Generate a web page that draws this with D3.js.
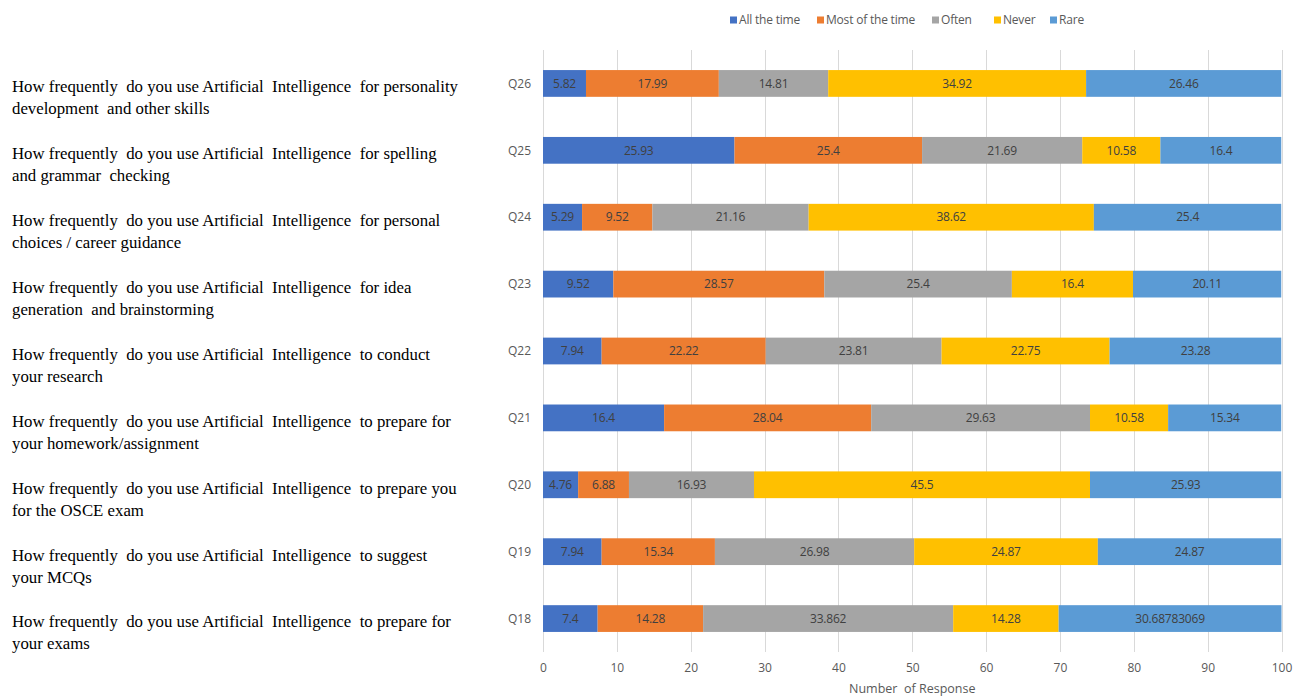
<!DOCTYPE html>
<html><head><meta charset="utf-8">
<script src="https://cdn.jsdelivr.net/npm/d3@7"></script>
<style>
html,body{margin:0;padding:0;background:#fff;}
svg{display:block;}
</style></head>
<body>
<svg id="chart" width="1293" height="698"></svg>
<script>
const categories = ["Q26","Q25","Q24","Q23","Q22","Q21","Q20","Q19","Q18"];
const seriesNames = ["All the time","Most of the time","Often","Never","Rare"];
const allTheTime   = [5.82, 25.93, 5.29, 9.52, 7.94, 16.4, 4.76, 7.94, 7.4];
const mostOfTheTime= [17.99, 25.4, 9.52, 28.57, 22.22, 28.04, 6.88, 15.34, 14.28];
const often        = [14.81, 21.69, 21.16, 25.4, 23.81, 29.63, 16.93, 26.98, 33.862];
const never        = [34.92, 10.58, 38.62, 16.4, 22.75, 10.58, 45.5, 24.87, 14.28];
const rare         = [26.46, 16.4, 25.4, 20.11, 23.28, 15.34, 25.93, 24.87, 30.68783069];
const xTicks = [0,10,20,30,40,50,60,70,80,90,100];
const questionLines = [
  ["How frequently  do you use Artificial  Intelligence  for personality", "development  and other skills"],
  ["How frequently  do you use Artificial  Intelligence  for spelling", "and grammar  checking"],
  ["How frequently  do you use Artificial  Intelligence  for personal", "choices / career guidance"],
  ["How frequently  do you use Artificial  Intelligence  for idea", "generation  and brainstorming"],
  ["How frequently  do you use Artificial  Intelligence  to conduct", "your research"],
  ["How frequently  do you use Artificial  Intelligence  to prepare for", "your homework/assignment"],
  ["How frequently  do you use Artificial  Intelligence  to prepare you", "for the OSCE exam"],
  ["How frequently  do you use Artificial  Intelligence  to suggest", "your MCQs"],
  ["How frequently  do you use Artificial  Intelligence  to prepare for", "your exams"]
];
const colors = ["#4472C4","#ED7D31","#A5A5A5","#FFC000","#5B9BD5"];
const axisTitle = "Number  of Response";

(function(){
const seriesValues = [allTheTime, mostOfTheTime, often, never, rare];
const rows = categories.map((c,i)=>{
  const r = {cat:c};
  seriesNames.forEach((s,j)=> r[s]=seriesValues[j][i]);
  return r;
});

const svg = d3.select("#chart");
const pL = 543, pR = 1281.5, pT = 50, pB = 652;
const x = d3.scaleLinear().domain([0,100]).range([pL,pR]);
const y = d3.scaleBand().domain(categories).range([pT,pB]).paddingInner(0.6).paddingOuter(0.3);
const color = d3.scaleOrdinal().domain(seriesNames).range(colors);

const sans = "'Open Sans',sans-serif";

svg.append("g").selectAll("line").data(xTicks).join("line")
  .attr("x1",d=>Math.round(x(d))+0.5).attr("x2",d=>Math.round(x(d))+0.5).attr("y1",pT).attr("y2",pB)
  .attr("stroke","#D9D9D9").attr("stroke-width",1);

svg.append("clipPath").attr("id","plotclip").append("rect")
  .attr("x",pL).attr("y",0).attr("width",pR-pL).attr("height",698);

const stack = d3.stack().keys(seriesNames)(rows);
const gBars = svg.append("g").attr("clip-path","url(#plotclip)");
stack.forEach(layer=>{
  const g = gBars.append("g").attr("fill",color(layer.key));
  g.selectAll("rect").data(layer).join("rect")
    .attr("x",d=>x(d[0])).attr("width",d=>x(d[1])-x(d[0]))
    .attr("y",d=>y(d.data.cat)).attr("height",y.bandwidth());
});
const gLab = svg.append("g").attr("font-family",sans).attr("font-size",12).attr("fill","#404040").attr("letter-spacing","-0.2");
stack.forEach(layer=>{
  gLab.selectAll(null).data(layer).join("text")
    .attr("x",d=>(x(d[0])+Math.min(x(d[1]),pR))/2)
    .attr("y",d=>y(d.data.cat)+y.bandwidth()/2)
    .attr("dy","0.35em").attr("text-anchor","middle")
    .text(d=>String(d.data[layer.key]));
});

svg.append("g").selectAll("text").data(categories).join("text")
  .attr("x",531).attr("y",d=>y(d)+y.bandwidth()/2).attr("dy","0.35em")
  .attr("text-anchor","end").attr("font-family",sans).attr("font-size",12).attr("fill","#595959")
  .text(d=>d);

const xAxis = d3.axisBottom(x).tickValues(xTicks).tickSize(0).tickPadding(0);
const gx = svg.append("g").attr("transform",`translate(0,${pB})`).call(xAxis);
gx.select(".domain").remove();
gx.selectAll("text").attr("y",11).attr("font-family",sans).attr("font-size",12).attr("fill","#595959");

svg.append("text").attr("x",(pL+pR)/2).attr("y",689).attr("dy","0.35em")
  .attr("text-anchor","middle").attr("font-family",sans).attr("font-size",12.5).attr("fill","#595959")
  .style("white-space","pre").text(axisTitle);

const legendX = [730, 817, 932, 994, 1050];
const lg = svg.append("g").attr("font-family",sans).attr("font-size",12).attr("fill","#595959").attr("letter-spacing","-0.2");
seriesNames.forEach((s,i)=>{
  lg.append("rect").attr("x",legendX[i]).attr("y",16.5).attr("width",7).attr("height",7).attr("fill",color(s));
  lg.append("text").attr("x",legendX[i]+9).attr("y",20).attr("dy","0.35em").text(s);
});

const gq = svg.append("g").attr("font-family","'Liberation Serif','Times New Roman',serif").attr("font-size",16.8).attr("fill","#000");
categories.forEach((c,i)=>{
  const cy = y(c)+y.bandwidth()/2;
  questionLines[i].forEach((ln,k)=>{
    gq.append("text").attr("x",12).attr("y",cy+3+k*22).attr("dy","0.35em")
      .style("white-space","pre").text(ln);
  });
});
})();
</script>
</body></html>
